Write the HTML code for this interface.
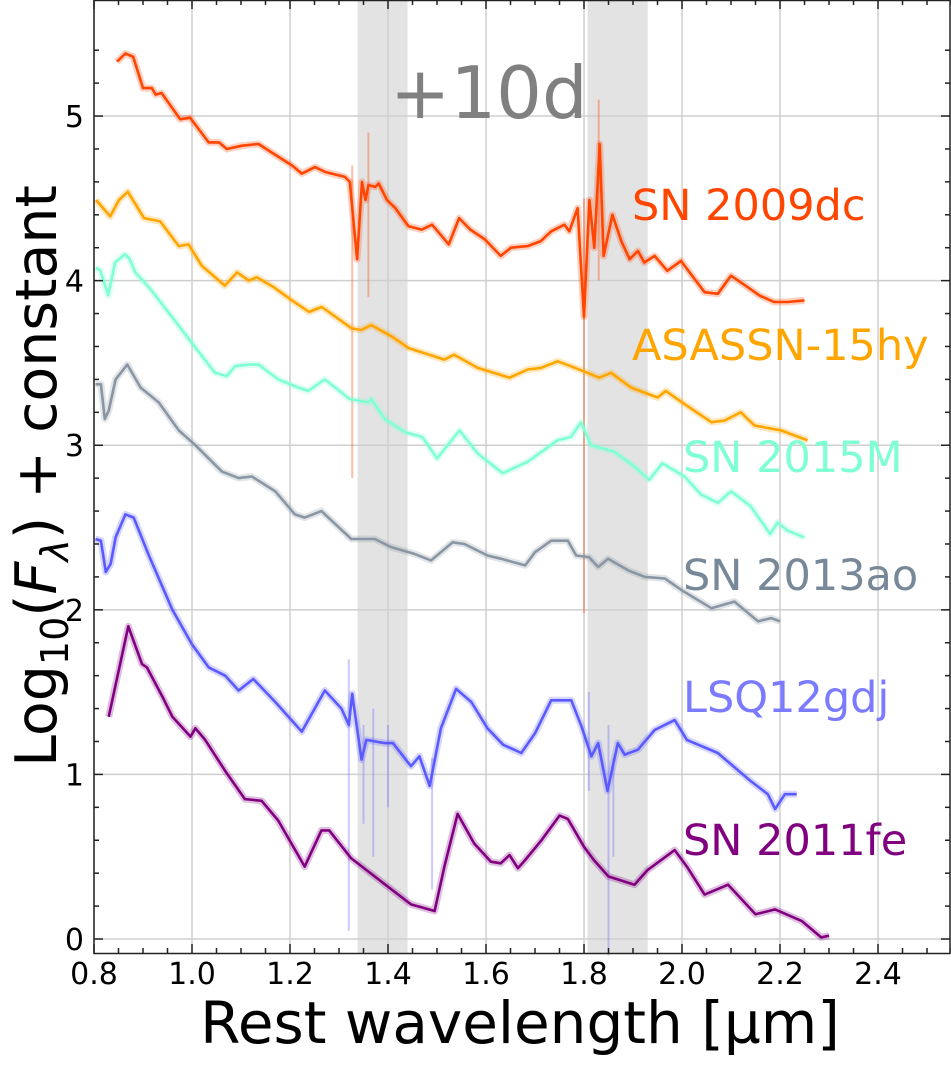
<!DOCTYPE html>
<html><head><meta charset="utf-8">
<style>
html,body{margin:0;padding:0;background:#fff;}
svg{display:block;font-family:"DejaVu Sans","Liberation Sans",sans-serif;}
</style></head>
<body>
<svg id="chart" width="951" height="1071" viewBox="0 0 951 1071" xmlns="http://www.w3.org/2000/svg">
  <g id="bands"></g>
  <g id="grid"></g>
  <g id="series"></g>
  <g id="ticks"></g>
  <rect x="94" y="0.5" width="856" height="953" fill="none" stroke="#222" stroke-width="1.5"/>
  <text x="390" y="118" font-size="72" fill="#808080">+10d</text>
  <text x="632" y="220" font-size="43" fill="#ff4500">SN 2009dc</text>
  <text x="632" y="360" font-size="43" fill="#ffa500">ASASSN-15hy</text>
  <text x="683" y="472" font-size="43" fill="#7fffd4">SN 2015M</text>
  <text x="683" y="590" font-size="43" fill="#778899">SN 2013ao</text>
  <text x="683" y="712" font-size="43" fill="#7b7bff">LSQ12gdj</text>
  <text x="683" y="855" font-size="43" fill="#800080">SN 2011fe</text>
  <text x="520" y="1043" font-size="58" text-anchor="middle" fill="#000">Rest wavelength [µm]</text>
  <text transform="translate(56,476) rotate(-90)" font-size="57" text-anchor="middle" fill="#000">Log<tspan font-size="38" dy="12">10</tspan><tspan dy="-12">(</tspan><tspan font-style="italic">F</tspan><tspan font-size="38" font-style="italic" dy="12">λ</tspan><tspan dy="-12">) + constant</tspan></text>
</svg>
<script>
const xTicks=[0.8,1.0,1.2,1.4,1.6,1.8,2.0,2.2,2.4];
const yTicks=[0,1,2,3,4,5];
const bandStarts=[1.338,1.807];
const bandEnds=[1.44,1.93];

const w2009dc=[0.847,0.864,0.88,0.90,0.918,0.926,0.938,0.976,0.996,1.034,1.055,1.071,1.102,1.136,1.167,1.204,1.224,1.251,1.272,1.312,1.322,1.337,1.347,1.354,1.36,1.374,1.381,1.398,1.415,1.432,1.442,1.469,1.49,1.51,1.524,1.545,1.568,1.598,1.63,1.651,1.685,1.712,1.733,1.76,1.77,1.787,1.80,1.811,1.821,1.832,1.84,1.858,1.876,1.893,1.91,1.923,1.944,1.97,1.998,2.018,2.046,2.073,2.10,2.134,2.158,2.188,2.215,2.25];
const f2009dc=[5.33,5.38,5.36,5.17,5.17,5.13,5.14,4.98,4.99,4.84,4.84,4.80,4.82,4.83,4.77,4.70,4.65,4.69,4.66,4.63,4.60,4.13,4.60,4.49,4.58,4.57,4.59,4.49,4.44,4.37,4.33,4.31,4.34,4.27,4.22,4.38,4.31,4.25,4.15,4.20,4.21,4.24,4.30,4.34,4.30,4.44,3.78,4.49,4.20,4.83,4.15,4.40,4.24,4.13,4.18,4.11,4.15,4.06,4.12,4.04,3.93,3.92,4.03,3.96,3.91,3.87,3.87,3.88];

const w15hy=[0.804,0.833,0.851,0.869,0.902,0.935,0.973,0.993,1.02,1.067,1.092,1.116,1.132,1.167,1.204,1.239,1.265,1.326,1.345,1.366,1.408,1.442,1.474,1.515,1.535,1.583,1.648,1.685,1.712,1.746,1.773,1.807,1.831,1.855,1.896,1.95,1.967,2.005,2.06,2.087,2.12,2.148,2.202,2.256];
const f15hy=[4.49,4.39,4.49,4.54,4.38,4.36,4.21,4.22,4.09,3.97,4.05,4.0,4.02,3.96,3.88,3.81,3.84,3.71,3.70,3.73,3.66,3.59,3.56,3.52,3.55,3.47,3.41,3.46,3.47,3.51,3.48,3.44,3.41,3.44,3.35,3.29,3.33,3.25,3.14,3.15,3.20,3.12,3.09,3.03];

const w2015M=[0.804,0.813,0.829,0.843,0.863,0.873,0.884,0.912,0.959,1.0,1.047,1.071,1.088,1.115,1.136,1.176,1.217,1.237,1.271,1.322,1.36,1.366,1.393,1.434,1.47,1.50,1.546,1.583,1.634,1.685,1.746,1.773,1.794,1.814,1.862,1.903,1.933,1.96,2.005,2.039,2.073,2.10,2.14,2.18,2.195,2.216,2.25];
const f2015M=[4.08,4.06,3.91,4.11,4.16,4.13,4.05,3.96,3.78,3.62,3.44,3.42,3.48,3.49,3.49,3.40,3.35,3.33,3.40,3.28,3.26,3.28,3.16,3.08,3.05,2.92,3.09,2.95,2.83,2.90,3.03,3.05,3.14,3.0,2.96,2.87,2.79,2.89,2.81,2.70,2.65,2.72,2.63,2.46,2.53,2.48,2.44];

const w2013ao=[0.803,0.814,0.822,0.83,0.844,0.868,0.895,0.932,0.973,1.007,1.061,1.095,1.122,1.17,1.21,1.23,1.264,1.325,1.373,1.407,1.454,1.488,1.532,1.556,1.603,1.631,1.68,1.70,1.733,1.767,1.784,1.81,1.829,1.849,1.89,1.924,1.965,1.999,2.06,2.107,2.155,2.182,2.20];
const f2013ao=[3.37,3.37,3.16,3.21,3.40,3.49,3.35,3.26,3.09,3.0,2.84,2.80,2.81,2.72,2.58,2.56,2.60,2.43,2.43,2.38,2.34,2.30,2.41,2.40,2.33,2.31,2.27,2.35,2.42,2.42,2.33,2.32,2.26,2.31,2.24,2.20,2.19,2.12,2.01,2.05,1.93,1.95,1.93];

const wLSQ=[0.803,0.814,0.824,0.834,0.844,0.864,0.881,0.912,0.96,1.0,1.034,1.068,1.095,1.125,1.17,1.203,1.224,1.271,1.305,1.32,1.327,1.346,1.356,1.393,1.41,1.447,1.464,1.485,1.508,1.539,1.57,1.603,1.635,1.672,1.70,1.733,1.774,1.795,1.815,1.829,1.848,1.869,1.883,1.91,1.944,1.985,2.01,2.073,2.14,2.175,2.19,2.21,2.234];
const fLSQ=[2.43,2.42,2.23,2.28,2.44,2.58,2.56,2.33,2.0,1.79,1.65,1.60,1.51,1.58,1.44,1.33,1.26,1.51,1.40,1.30,1.49,1.09,1.21,1.19,1.19,1.05,1.11,0.93,1.28,1.52,1.44,1.28,1.18,1.13,1.25,1.45,1.45,1.29,1.11,1.19,0.90,1.19,1.12,1.15,1.27,1.33,1.21,1.13,0.96,0.88,0.79,0.88,0.88];

const w2011fe=[0.83,0.87,0.898,0.908,0.94,0.96,0.997,1.007,1.027,1.068,1.108,1.142,1.176,1.23,1.264,1.28,1.325,1.386,1.447,1.495,1.515,1.542,1.576,1.61,1.63,1.648,1.665,1.68,1.713,1.75,1.767,1.80,1.82,1.85,1.903,1.93,1.985,2.01,2.046,2.094,2.15,2.19,2.244,2.284,2.30];
const f2011fe=[1.35,1.90,1.67,1.65,1.47,1.35,1.23,1.28,1.21,1.02,0.85,0.84,0.72,0.44,0.66,0.66,0.49,0.35,0.21,0.17,0.44,0.76,0.58,0.47,0.46,0.51,0.43,0.48,0.60,0.75,0.73,0.56,0.48,0.38,0.33,0.42,0.54,0.44,0.27,0.33,0.15,0.18,0.11,0.01,0.02];

const spikeW2009dc=[1.327,1.80,1.36,1.83];
const spikeTop2009dc=[4.7,4.5,4.9,5.1];
const spikeBot2009dc=[2.8,1.98,3.9,4.0];
const spikeWLSQ=[1.32,1.35,1.37,1.40,1.85,1.86,1.81,1.49];
const spikeTopLSQ=[1.7,1.3,1.4,1.3,1.3,1.1,1.5,1.1];
const spikeBotLSQ=[0.05,0.7,0.5,0.8,-0.1,0.5,0.9,0.3];

const NS='http://www.w3.org/2000/svg';
const L=94,R=950,T=0,B=953,X0=0.8,X1=2.5469,Y0=-0.085,Y1=5.705;
function xs(w){return L+(w-X0)/(X1-X0)*(R-L);}
function ys(v){return B-(v-Y0)/(Y1-Y0)*(B-T);}
function mk(tag,attrs,parent){const e=document.createElementNS(NS,tag);for(const k in attrs)e.setAttribute(k,attrs[k]);parent.appendChild(e);return e;}

const bands=document.getElementById('bands');
for(let i=0;i<bandStarts.length;i++){
  const r=mk('rect',{x:xs(bandStarts[i]),y:T,width:xs(bandEnds[i])-xs(bandStarts[i]),height:B-T,fill:'#e3e3e3'},bands);
  
  
}
const grid=document.getElementById('grid');
xTicks.forEach(t=>{const l=mk('line',{x1:xs(t),x2:xs(t),y1:T,y2:B,stroke:'#cfcfcf','stroke-width':1.5},grid);
  
  });
yTicks.forEach(t=>{const l=mk('line',{x1:L,x2:R,y1:ys(t),y2:ys(t),stroke:'#cfcfcf','stroke-width':1.5},grid);
  
  });

const series=document.getElementById('series');
function spikes(ws,tops,bots,color,name){
  for(let i=0;i<ws.length;i++){
    const l=mk('line',{x1:xs(ws[i]),x2:xs(ws[i]),y1:ys(tops[i]),y2:ys(bots[i]),stroke:color,'stroke-width':2,opacity:0.35},series);
    
    
  }
}
function drawSeries(ws,fs,color,name){
  let d='';
  for(let i=0;i<ws.length;i++)d+=(i?'L':'M')+xs(ws[i]).toFixed(1)+','+ys(fs[i]).toFixed(1);
  const bg=mk('path',{d:d,fill:'none',stroke:color,'stroke-width':7,opacity:0.25,'stroke-linejoin':'round'},series);
  
  
  const p=mk('path',{d:d,fill:'none',stroke:color,'stroke-width':2.6,'stroke-linejoin':'round'},series);
  
  
}
spikes(spikeW2009dc,spikeTop2009dc,spikeBot2009dc,'#ff4500','sn2009dc-noise');
spikes(spikeWLSQ,spikeTopLSQ,spikeBotLSQ,'#6a6aff','lsq12gdj-noise');
drawSeries(w2011fe,f2011fe,'#800080','sn2011fe');
drawSeries(wLSQ,fLSQ,'#5a5aff','lsq12gdj');
drawSeries(w2013ao,f2013ao,'#8a96a3','sn2013ao');
drawSeries(w2015M,f2015M,'#7fffd4','sn2015m');
drawSeries(w15hy,f15hy,'#ffa500','asassn15hy');
drawSeries(w2009dc,f2009dc,'#ff4500','sn2009dc');

const ticks=document.getElementById('ticks');
function tk(x1,y1,x2,y2){const l=mk('line',{x1:x1,y1:y1,x2:x2,y2:y2,stroke:'#222','stroke-width':1.5},ticks);
  
  }
for(let w=0.8;w<=2.55;w+=0.05){const x=xs(w);const major=Math.abs(w*5-Math.round(w*5))<1e-6;const len=major?9:5;tk(x,B,x,B-len);tk(x,T,x,T+len);}
for(let v=0;v<=5.6;v+=0.2){const y=ys(v);const major=Math.abs(v-Math.round(v))<1e-6;const len=major?9:5;tk(L,y,L+len,y);tk(R,y,R-len,y);}
xTicks.forEach(t=>{const e=mk('text',{x:xs(t),y:984,'font-size':30,'text-anchor':'middle',fill:'#000'},ticks);e.textContent=t.toFixed(1);
  
  });
yTicks.forEach(t=>{const e=mk('text',{x:84,y:ys(t)+11,'font-size':30,'text-anchor':'end',fill:'#000'},ticks);e.textContent=String(t);
  
  });
</script>
</body></html>
